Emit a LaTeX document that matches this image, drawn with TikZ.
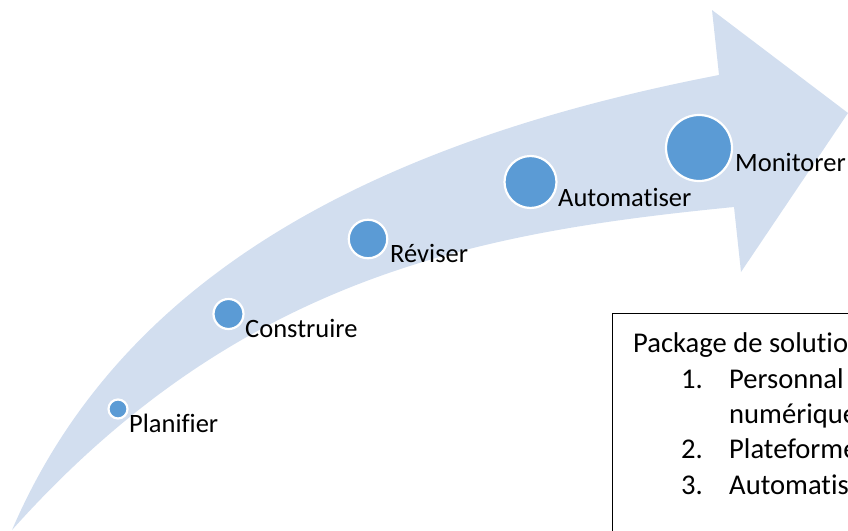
\documentclass[tikz,border=0pt]{standalone}
\usepackage{fontspec}
\setmainfont[Ligatures=NoCommon]{Carlito}
\definecolor{arrowfill}{HTML}{D2DEEF}
\definecolor{dotfill}{HTML}{5B9BD5}
\tikzset{
  dot/.style={circle,fill=dotfill,draw=white,line width=2.2pt,inner sep=0pt,minimum size=#1},
  lab/.style={anchor=base west,inner sep=0pt,font=\fontsize{26.5}{26.5}\selectfont,text=black},
  boxlab/.style={anchor=base west,inner sep=0pt,font=\fontsize{28.6}{28.6}\selectfont,text=black},
  frame/.style={draw=black,line width=1.2pt,fill=white,rectangle,anchor=north west,inner sep=0pt}
}
\begin{document}
\begin{tikzpicture}[x=1pt,y=-1pt]
\useasboundingbox (0,0) rectangle (848,530);
\clip (0,0) rectangle (848,530);
\fill[arrowfill] (12,530) .. controls (110,302) and (330,150) .. (719,75)
  -- (712,10) -- (848,113) -- (741,272) -- (734,207)
  .. controls (480,232) and (240,275) .. (12,530) -- cycle;
\node[dot=19pt] (d1) at (118,409) {};
\node[dot=30pt] (d2) at (228.5,314) {};
\node[dot=38.5pt] (d3) at (368,239) {};
\node[dot=52pt] (d4) at (530.5,182) {};
\node[dot=66pt] (d5) at (699,148) {};
\node[lab] (t1) at (129,432) {Planifier};
\node[lab] (t2) at (245,337) {Construire};
\node[lab] (t3) at (390,262) {Réviser};
\node[lab] (t4) at (558,206) {Automatiser};
\node[lab] (t5) at (735,171) {Monitorer};
\node[frame,minimum width=260pt,minimum height=240pt] (box) at (612,313) {};
\node[boxlab] (p0) at (633,352) {Package de solutio};
\node[boxlab] (n1) at (681,388) {1.};
\node[boxlab] (p1) at (729,388) {Personnal};
\node[boxlab] (p1b) at (729,423) {numérique};
\node[boxlab] (n2) at (681,458) {2.};
\node[boxlab] (p2) at (729,458) {Plateforme};
\node[boxlab] (n3) at (681,494) {3.};
\node[boxlab] (p3) at (729,494) {Automatis};
\end{tikzpicture}
\end{document}
